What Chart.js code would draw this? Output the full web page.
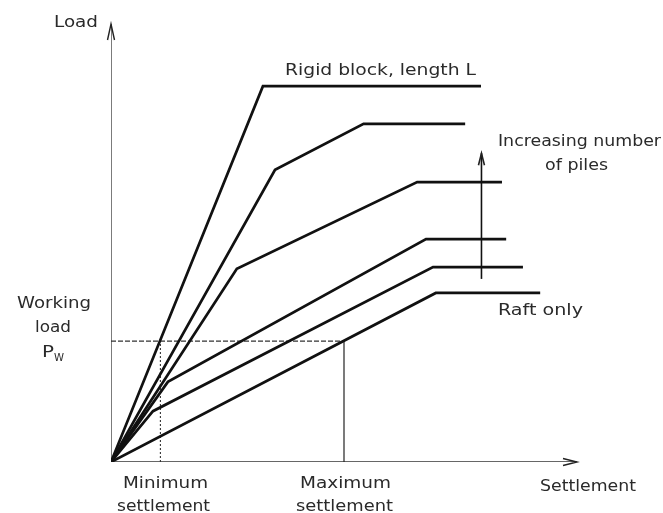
<!DOCTYPE html>
<html>
<head>
<meta charset="utf-8">
<script src="https://cdn.jsdelivr.net/npm/chart.js@4"></script>
<style>
  body { margin: 0; background: #fff; }
  #wrap { width: 663px; height: 513px; }
</style>
</head>
<body>
<div id="wrap"><canvas id="chart" width="663" height="513"></canvas></div>
<script>
// load-settlement curves, settlement (x) and load (y) in arbitrary units 0-100
const rigidBlock = [[0, 0], [32.6, 85.8], [79.4, 85.8]];
const pilesMany  = [[0, 0], [35.2, 66.7], [54.2, 77.2], [76.0, 77.2]];
const pilesSome  = [[0, 0], [27.0, 44.1], [65.7, 63.9], [83.9, 63.9]];
const pilesFew   = [[0, 0], [12.2, 18.3], [67.6, 50.9], [84.8, 50.9]];
const pilesOne   = [[0, 0], [9.0, 11.6], [69.1, 44.5], [88.4, 44.5]];
const raftOnly   = [[0, 0], [69.7, 38.6], [92.1, 38.6]];

const workingLoad = 27.6;
const minSettlement = 10.6;
const maxSettlement = 50;
const pileArrowX = 79.5;
const pileArrowY = [41.8, 70.5];
const axisMax = 100;

const curves = [rigidBlock, pilesMany, pilesSome, pilesFew, pilesOne, raftOnly];

const pts = a => a.map(p => ({x: p[0], y: p[1]}));
const line = (data, w, dash, color) => ({
    data, borderColor: color || '#111', borderWidth: w, borderDash: dash || [],
    pointRadius: 0, showLine: true, fill: false, tension: 0
});

const ds = curves.map(c => line(pts(c), 2.7));
ds.push(line([{x: 0, y: workingLoad}, {x: maxSettlement, y: workingLoad}], 1.1, [5, 2], '#333'));
ds.push(line([{x: minSettlement, y: 0}, {x: minSettlement, y: workingLoad}], 1.1, [2, 2], '#333'));
ds.push(line([{x: maxSettlement, y: 0}, {x: maxSettlement, y: workingLoad}], 1.2, [], '#222'));
ds.push(line([{x: pileArrowX, y: pileArrowY[0]}, {x: pileArrowX, y: pileArrowY[1]}], 1.6));
ds.push(line([{x: 0, y: 0}, {x: axisMax, y: 0}], 1.3, [], '#333'));
ds.push(line([{x: 0, y: 0}, {x: 0, y: axisMax}], 1.3, [], '#333'));

// text: [string, left, baseline, width, size]
const texts = [
    ['Load', 54, 27, 44, 15],
    ['Rigid block, length L', 285, 75, 191, 15],
    ['Increasing number', 498, 146, 163, 15],
    ['of piles', 545, 170, 63, 15],
    ['Raft only', 498, 315, 85, 15],
    ['Working', 17, 308, 74, 15],
    ['load', 35, 332, 36, 15],
    ['P', 42, 357, 12, 15],
    ['W', 54, 361, 10, 10],
    ['Minimum', 123, 488, 85, 15],
    ['settlement', 117, 511, 93, 15],
    ['Maximum', 300, 488, 91, 15],
    ['settlement', 296, 511, 97, 15],
    ['Settlement', 540, 491, 96, 15]
];

function arrowHead(ctx, x, y, dir, len, half) {
    ctx.beginPath();
    if (dir === 'up') {
        ctx.moveTo(x - half, y + len); ctx.lineTo(x, y); ctx.lineTo(x + half, y + len);
    } else {
        ctx.moveTo(x - len, y - half); ctx.lineTo(x, y); ctx.lineTo(x - len, y + half);
    }
    ctx.stroke();
}

const decor = {
    id: 'decor',
    afterDatasetsDraw(c) {
        const ctx = c.ctx, xs = c.scales.x, ys = c.scales.y;
        ctx.save();
        ctx.strokeStyle = '#222';
        ctx.lineWidth = 1.4;
        arrowHead(ctx, xs.getPixelForValue(0), ys.getPixelForValue(axisMax), 'up', 16, 3.5);
        arrowHead(ctx, xs.getPixelForValue(axisMax), ys.getPixelForValue(0), 'right', 14, 3.5);
        ctx.lineWidth = 1.6;
        arrowHead(ctx, xs.getPixelForValue(pileArrowX), ys.getPixelForValue(pileArrowY[1]), 'up', 12, 3);

        ctx.fillStyle = '#2a2a2a';
        ctx.textBaseline = 'alphabetic';
        ctx.textAlign = 'left';
        texts.forEach(([s, x, y, w, size]) => {
            ctx.font = `${size}px "DejaVu Sans", sans-serif`;
            const nat = ctx.measureText(s).width;
            // the printed lettering is wide: stretch to the measured width
            const k = w / nat;
            ctx.save();
            ctx.translate(x, y);
            ctx.scale(k, 1);
            ctx.fillText(s, 0, 0);
            ctx.restore();
        });
        ctx.restore();
    }
};

new Chart(document.getElementById('chart'), {
    type: 'scatter',
    data: { datasets: ds },
    options: {
        responsive: false,
        animation: false,
        layout: { padding: { left: 111, right: 86, top: 24, bottom: 51 } },
        plugins: { legend: { display: false }, tooltip: { enabled: false } },
        elements: { line: { borderJoinStyle: 'miter', borderCapStyle: 'butt' } },
        scales: {
            x: { type: 'linear', min: 0, max: axisMax, display: false },
            y: { type: 'linear', min: 0, max: axisMax, display: false }
        }
    },
    plugins: [decor]
});
</script>
</body>
</html>
